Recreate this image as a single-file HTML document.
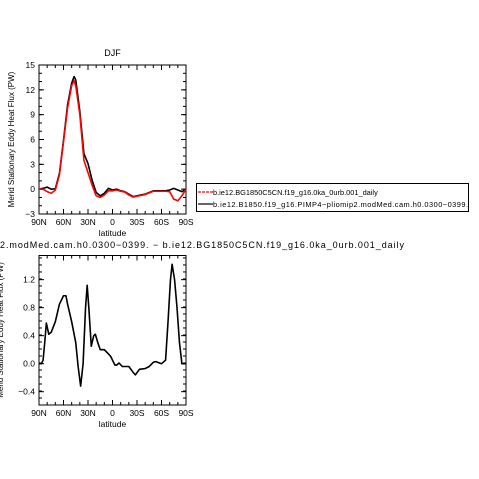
<!DOCTYPE html>
<html><head><meta charset="utf-8"><style>
html,body{margin:0;padding:0;background:#fff;width:479px;height:479px;overflow:hidden}
svg{display:block;font-family:"Liberation Sans",sans-serif}
</style></head><body>
<svg id="c" width="479" height="479" viewBox="0 0 479 479"></svg>
<script>
// ---- data ----
const lat1 = [90,85,80,75,70,65,60,55,50,47,45,40,35,30,25,20,15,10,5,0,-5,-10,-15,-20,-25,-30,-35,-40,-45,-50,-55,-60,-65,-70,-75,-80,-85,-90];
const black1 = [0,0.1,0.25,0,0.05,1.9,5.9,10.2,12.8,13.6,13.2,9.4,4.3,3.1,1.1,-0.4,-0.8,-0.5,0.1,-0.1,0,-0.2,-0.3,-0.6,-0.9,-0.8,-0.7,-0.6,-0.4,-0.2,-0.2,-0.2,-0.2,-0.1,0.1,-0.1,-0.3,0];
const red1 = [0,0,-0.3,-0.5,-0.1,1.7,5.7,9.8,12.5,13.1,12.5,9.0,3.5,2.0,0.5,-0.8,-1.0,-0.7,-0.2,-0.2,-0.1,-0.25,-0.35,-0.7,-0.95,-0.85,-0.75,-0.65,-0.45,-0.25,-0.25,-0.25,-0.25,-0.3,-1.2,-1.4,-0.8,0];
const lat2 = [90,87,85,83,81,78,75,70,65,60,57,55,50,45,42,39,36,33,31,29,26,23,21,18,15,10,5,2,0,-3,-5,-8,-12,-15,-20,-25,-28,-33,-40,-45,-50,-53,-60,-65,-68,-71,-73,-76,-79,-82,-85,-88,-90];
const diff2 = [0,0,0.05,0.3,0.58,0.42,0.45,0.6,0.85,0.97,0.97,0.85,0.6,0.3,-0.05,-0.32,0.0,0.8,1.12,0.8,0.25,0.4,0.42,0.3,0.2,0.2,0.14,0.1,0.05,-0.02,-0.02,0.01,-0.04,-0.04,-0.04,-0.12,-0.16,-0.08,-0.07,-0.04,0.02,0.03,0.0,0.05,0.6,1.2,1.42,1.2,0.8,0.3,0.0,0,0];
const xTickVals = [90,60,30,0,-30,-60,-90];
const xTickLabels = ["90N","60N","30N","0","30S","60S","90S"];
const yTicks1 = [-3,0,3,6,9,12,15];
const yTicks2 = [-0.4,0.0,0.4,0.8,1.2];
const yLabels2 = ["-0.4","0.0","0.4","0.8","1.2"];

const svg = document.getElementById('c');
const NS = 'http://www.w3.org/2000/svg';
function el(t, a, p){const e=document.createElementNS(NS,t);for(const k in a)e.setAttribute(k,a[k]);(p||svg).appendChild(e);return e;}

function panel(cfg){
  const {L,R,T,B,ymin,ymax,yt,ylab,minorStep,name} = cfg;
  const g = el('g',{});
  
  
  const sx = v => L + (90 - v) / 180 * (R - L);
  const sy = v => B - (v - ymin) / (ymax - ymin) * (B - T);
  for(let v=90; v>=-90; v-=10){
    const x=sx(v), maj = v%30===0, len = maj?5:3;
    el('line',{x1:x,x2:x,y1:B,y2:B-len,stroke:'#000','stroke-width':1},g);
    el('line',{x1:x,x2:x,y1:T,y2:T+len,stroke:'#000','stroke-width':1},g);
  }
  const n = Math.round((ymax-ymin)/minorStep);
  for(let i=0;i<=n;i++){
    const v = ymin + i*minorStep; const y=sy(v);
    el('line',{x1:L,x2:L+3,y1:y,y2:y,stroke:'#000','stroke-width':1},g);
    el('line',{x1:R,x2:R-3,y1:y,y2:y,stroke:'#000','stroke-width':1},g);
  }
  yt.forEach((v,i)=>{
    const y=sy(v);
    el('line',{x1:L,x2:L+5,y1:y,y2:y,stroke:'#000','stroke-width':1},g);
    el('line',{x1:R,x2:R-5,y1:y,y2:y,stroke:'#000','stroke-width':1},g);
    const t=el('text',{x:L-4,y:y+3,'font-size':8.5,'text-anchor':'end'},g);
    t.textContent = ylab[i].replace('-','\u2212');
    
    
  });
  xTickVals.forEach((v,i)=>{
    const t=el('text',{x:sx(v),y:B+11,'font-size':8.5,'text-anchor':'middle'},g);
    t.textContent = xTickLabels[i];
    
    
  });
  const xl=el('text',{x:(L+R)/2,y:B+22,'font-size':8.5,'text-anchor':'middle'},g);
  xl.textContent='latitude';
  
  
  el('rect',{x:L,y:T,width:R-L,height:B-T,fill:'none',stroke:'#000','stroke-width':1},g);
  return {g,sx,sy};
}
function line(p, xs, ys, color, w, nm){
  const pts = xs.map((x,i)=>p.sx(x).toFixed(2)+','+p.sy(ys[i]).toFixed(2)).join(' ');
  const pl = el('polyline',{points:pts,fill:'none',stroke:color,'stroke-width':w,'stroke-linejoin':'round'},p.g);
  
  
}

// panel 1
const p1 = panel({L:39,R:186,T:65,B:214,ymin:-3,ymax:15,yt:yTicks1,ylab:yTicks1.map(String),minorStep:1,name:'top-panel'});
line(p1, lat1, black1, '#000', 1.6, 'series-b1850-pliomip2');
line(p1, lat1, red1, '#f00', 1.6, 'series-bg1850c5cn');
const tt=el('text',{x:112.5,y:56,'font-size':9,'text-anchor':'middle'});
tt.textContent='DJF';


const y1=el('text',{x:14,y:139.5,'font-size':8,'text-anchor':'middle',transform:'rotate(-90 14 139.5)'});
y1.textContent='Merid Stationary Eddy Heat Flux (PW)';



// legend
const lg = el('g',{});


el('rect',{x:196.5,y:183.5,width:272,height:28,fill:'#fff',stroke:'#000','stroke-width':1},lg);
el('line',{x1:198,x2:213,y1:192,y2:192,stroke:'#f00','stroke-width':1.2,'stroke-dasharray':'3,1'},lg);
el('line',{x1:198,x2:213,y1:204,y2:204,stroke:'#000','stroke-width':1.2},lg);
const lt1=el('text',{x:213,y:195,'font-size':7.4},lg); lt1.textContent='b.ie12.BG1850C5CN.f19_g16.0ka_0urb.001_daily';


const lt2=el('text',{x:213,y:207,'font-size':7.4,textLength:255},lg); lt2.textContent='b.ie12.B1850.f19_g16.PIMP4\u2212pliomip2.modMed.cam.h0.0300\u22120399.';



// panel 2
const p2 = panel({L:39,R:186,T:255.5,B:405,ymin:-0.59,ymax:1.545,yt:yTicks2,ylab:yLabels2,minorStep:0.1,name:'bottom-panel'});
line(p2, lat2, diff2, '#000', 1.6, 'series-difference');
const y2=el('text',{x:3,y:330,'font-size':8,'text-anchor':'middle',transform:'rotate(-90 3 330)'});
y2.textContent='Merid Stationary Eddy Heat Flux (PW)';



// middle title
const mt=el('text',{x:0,y:248,'font-size':9,textLength:404}); mt.textContent='2.modMed.cam.h0.0300\u22120399.  \u2212  b.ie12.BG1850C5CN.f19_g16.0ka_0urb.001_daily';


</script>
</body></html>
